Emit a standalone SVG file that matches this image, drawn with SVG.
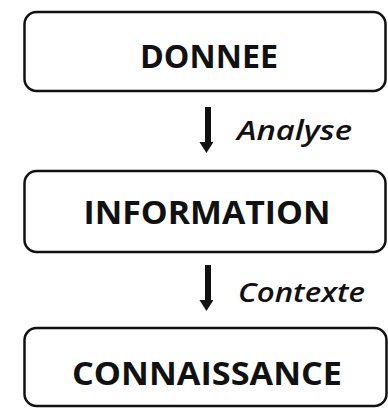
<svg xmlns="http://www.w3.org/2000/svg" width="388" height="408" viewBox="0 0 388 408">
  <style>
    .box { fill: #ffffff; stroke: #111111; stroke-width: 2.5; }
    .title { font-family: "Open Sans", "Liberation Sans", sans-serif; font-weight: bold; font-size: 32px; fill: #111111; text-anchor: middle; }
    .label { font-family: "Open Sans", "Liberation Sans", sans-serif; font-style: italic; font-weight: 600; font-size: 27px; fill: #111111; }
    .shaft { stroke: #111111; stroke-width: 6; marker-end: url(#head); }
  </style>
  <defs>
    <marker id="head" markerUnits="userSpaceOnUse" markerWidth="18" markerHeight="14" refX="0" refY="7" orient="auto" viewBox="0 0 14 18">
      <path d="M0,0 L14,9 L0,18 Z" fill="#111111"/>
    </marker>
  </defs>
  <rect width="388" height="408" fill="#ffffff"/>
  <g id="donnee">
    <rect class="box" x="24.5" y="12" width="361" height="79" rx="12"/>
    <text class="title" x="209" y="68" textLength="138" lengthAdjust="spacingAndGlyphs">DONNEE</text>
  </g>
  <g id="information">
    <rect class="box" x="24.5" y="171" width="361" height="81" rx="12"/>
    <text class="title" x="207" y="224" textLength="247" lengthAdjust="spacingAndGlyphs">INFORMATION</text>
  </g>
  <g id="connaissance">
    <rect class="box" x="24.5" y="328" width="362" height="78" rx="12"/>
    <text class="title" x="207" y="385" textLength="270" lengthAdjust="spacingAndGlyphs">CONNAISSANCE</text>
  </g>
  <g id="connectors">
    <line class="shaft" x1="208" y1="107" x2="208" y2="142"/>
    <text class="label" x="237" y="140" textLength="115" lengthAdjust="spacingAndGlyphs">Analyse</text>
    <line class="shaft" x1="208" y1="265" x2="208" y2="300"/>
    <text class="label" x="238" y="302" textLength="127" lengthAdjust="spacingAndGlyphs">Contexte</text>
  </g>
</svg>
